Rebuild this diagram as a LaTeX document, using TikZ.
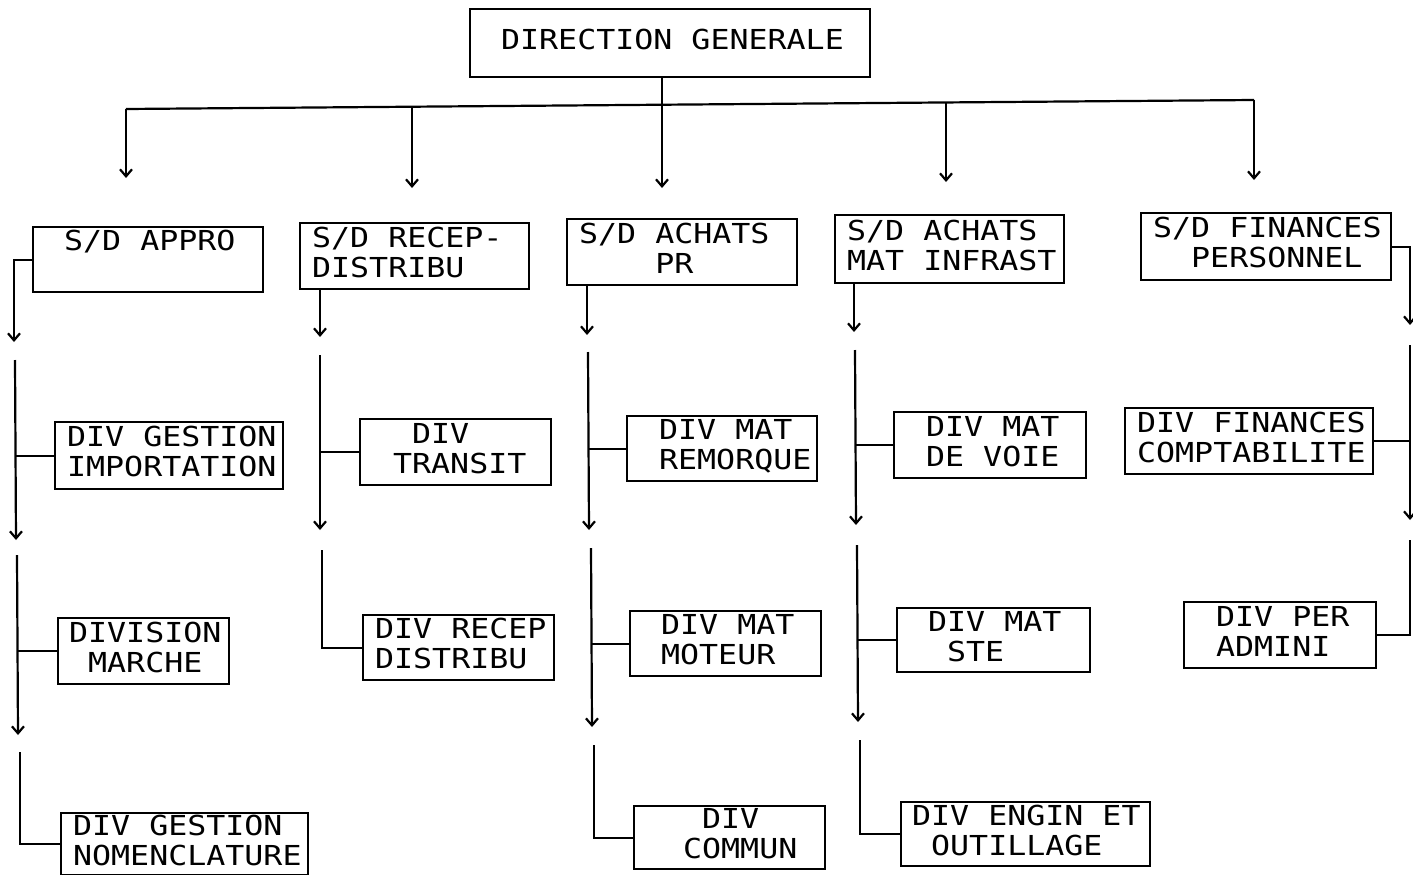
\documentclass[tikz,border=0pt]{standalone}
\usepackage{fontspec}
\newfontfamily\plotfont[FakeStretch=1.15]{DejaVu Sans Mono}
\usetikzlibrary{arrows.meta}
\newcommand\pad{\phantom{X}}
\tikzset{
  obox/.style={draw, line width=2.2pt, anchor=north west, inner xsep=0pt, inner ysep=0pt,
    align=left, font=\plotfont\fontsize{27.5}{30}\selectfont},
  link/.style={line width=2.2pt},
  arr/.style={link, -{Straight Barb[length=7pt 0 0, width=12pt 0 0]}}
}
% name, x, y, width, height, left offset, text
\newcommand\orgbox[7]{%
  \node[obox, minimum width=#4pt, minimum height=#5pt, text width=#4pt] (#1) at (#2,#3)
    {\hspace*{#6pt}\begin{tabular}{@{}l@{}}#7\end{tabular}};}
\begin{document}
\begin{tikzpicture}[x=1pt, y=-1pt]
\fill[white] (0,0) rectangle (1413,875);
\useasboundingbox (0,0) rectangle (1413,875);

% top
\orgbox{dg}{469}{8}{400}{68}{31}{DIRECTION\pad GENERALE}

% level 1
\orgbox{appro}{32}{226}{230}{65}{31}{S/D\pad APPRO\\\mbox{}}
\orgbox{recep}{299}{222}{229}{66}{12}{S/D\pad RECEP-\\DISTRIBU}
\orgbox{achpr}{566}{218}{230}{66}{12}{S/D\pad ACHATS\\\pad\pad\pad\pad PR}
\orgbox{infra}{834}{214}{229}{68}{12}{S/D\pad ACHATS\\MAT\pad INFRAST}
\orgbox{fin}{1140}{212}{250}{67}{12}{S/D\pad FINANCES\\\pad\pad PERSONNEL}

% level 2
\orgbox{imp}{54}{421}{228}{67}{12}{DIV\pad GESTION\\IMPORTATION}
\orgbox{mar}{57}{617}{171}{66}{11}{DIVISION\\\pad MARCHE}
\orgbox{nom}{60}{812}{247}{62}{12}{DIV\pad GESTION\\NOMENCLATURE}
\orgbox{tra}{359}{418}{191}{66}{33}{\pad DIV\\TRANSIT}
\orgbox{rdi}{362}{614}{191}{65}{12}{DIV\pad RECEP\\DISTRIBU}
\orgbox{rem}{626}{415}{190}{65}{32}{DIV\pad MAT\\REMORQUE}
\orgbox{mot}{629}{610}{191}{65}{31}{DIV\pad MAT\\MOTEUR}
\orgbox{com}{633}{805}{191}{63}{49}{\pad DIV\\COMMUN}
\orgbox{voi}{893}{411}{192}{66}{32}{DIV\pad MAT\\DE\pad VOIE}
\orgbox{ste}{896}{607}{193}{64}{31}{DIV\pad MAT\\\pad STE}
\orgbox{eng}{900}{801}{249}{64}{11}{DIV\pad ENGIN\pad ET\\\pad OUTILLAGE}
\orgbox{cpt}{1124}{407}{248}{66}{12}{DIV\pad FINANCES\\COMPTABILITE}
\orgbox{adm}{1183}{601}{192}{66}{32}{DIV\pad PER\\ADMINI}

% bus from the top box
\coordinate (b1) at (126,109);
\coordinate (b2) at (412,106.7);
\coordinate (b4) at (946,102.5);
\coordinate (b5) at (1254,100);
\coordinate (t1) at (126,178);
\coordinate (t2) at (412,188);
\coordinate (t3) at (662,188);
\coordinate (t4) at (946,182);
\coordinate (t5) at (1254,180);
\draw[link] (b1) -- (b5);
\draw[arr] (t3 |- dg.south) -- (t3);
\draw[arr] (b1) -- (t1);
\draw[arr] (b2) -- (t2);
\draw[arr] (b4) -- (t4);
\draw[arr] (b5) -- (t5);

% column 1
\coordinate (c1a) at (14,342);
\coordinate (c1b) at (15,360);
\coordinate (c1c) at (16,540);
\coordinate (c1d) at (17,555);
\coordinate (c1e) at (18,735);
\coordinate (c1f) at (20,752);
\draw[arr] (appro.west) -| (c1a);
\draw[arr] (c1b) -- (c1c);
\draw[link] (c1b |- imp.west) -- (imp.west);
\draw[arr] (c1d) -- (c1e);
\draw[link] (c1d |- mar.west) -- (mar.west);
\draw[link] (c1f) |- (nom.west);

% column 2
\coordinate (c2a) at (320,337);
\coordinate (c2b) at (320,355);
\coordinate (c2c) at (320,530);
\coordinate (c2d) at (322,550);
\draw[arr] (recep.south -| c2a) -- (c2a);
\draw[arr] (c2b) -- (c2c);
\draw[link] (c2b |- tra.west) -- (tra.west);
\draw[link] (c2d) |- (rdi.west);

% column 3
\coordinate (c3a) at (587,335);
\coordinate (c3b) at (588,352);
\coordinate (c3c) at (589,530);
\coordinate (c3d) at (591,548);
\coordinate (c3e) at (592,727);
\coordinate (c3f) at (594,745);
\draw[arr] (achpr.south -| c3a) -- (c3a);
\draw[arr] (c3b) -- (c3c);
\draw[link] (c3b |- rem.west) -- (rem.west);
\draw[arr] (c3d) -- (c3e);
\draw[link] (c3d |- mot.west) -- (mot.west);
\draw[link] (c3f) |- (com.west);

% column 4
\coordinate (c4a) at (854,332);
\coordinate (c4b) at (855,350);
\coordinate (c4c) at (856,525);
\coordinate (c4d) at (857,545);
\coordinate (c4e) at (858,722);
\coordinate (c4f) at (860,740);
\draw[arr] (infra.south -| c4a) -- (c4a);
\draw[arr] (c4b) -- (c4c);
\draw[link] (c4b |- voi.west) -- (voi.west);
\draw[arr] (c4d) -- (c4e);
\draw[link] (c4d |- ste.west) -- (ste.west);
\draw[link] (c4f) |- (eng.west);

% column 5
\coordinate (c5a) at (1410,325);
\coordinate (c5b) at (1410,345);
\coordinate (c5c) at (1410,520);
\coordinate (c5d) at (1410,540);
\draw[arr] (fin.east) -| (c5a);
\draw[arr] (c5b) -- (c5c);
\draw[link] (c5b |- cpt.east) -- (cpt.east);
\draw[link] (c5d) |- (adm.east);
\end{tikzpicture}
\end{document}
